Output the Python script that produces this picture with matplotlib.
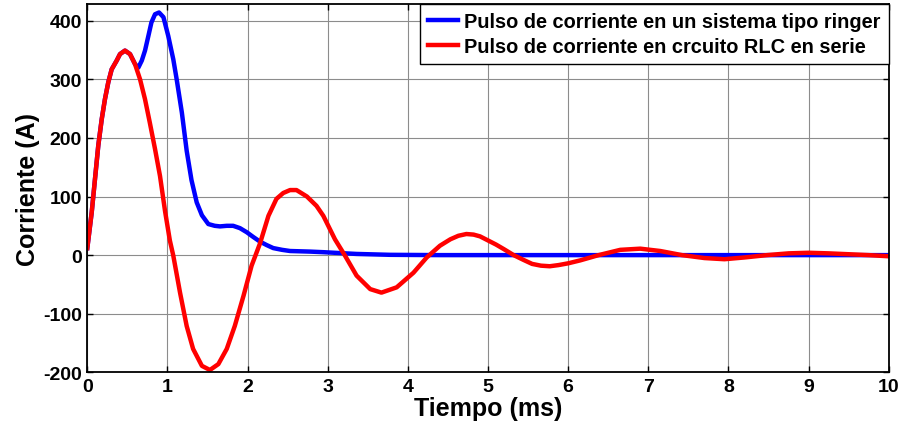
import matplotlib
matplotlib.use("Agg")
import matplotlib.pyplot as plt

# Red: RLC series circuit current pulse (t in ms, current in A)
t_rlc = [0.0, 0.055, 0.096, 0.137, 0.18, 0.22, 0.262, 0.304, 0.367, 0.408, 0.47,
         0.533, 0.595, 0.658, 0.72, 0.78, 0.845, 0.907, 0.97, 1.03, 1.073, 1.157,
         1.24, 1.32, 1.43, 1.53, 1.635, 1.74, 1.84, 1.95, 2.05, 2.155, 2.26, 2.36,
         2.445, 2.53, 2.61, 2.74, 2.86, 2.945, 3.09, 3.216, 3.36, 3.53, 3.67,
         3.86, 4.07, 4.235, 4.40, 4.53, 4.63, 4.73, 4.82, 4.90, 5.0, 5.10, 5.2,
         5.32, 5.44, 5.55, 5.66, 5.77, 5.88, 6.0, 6.15, 6.38, 6.65, 6.90, 7.15,
         7.42, 7.70, 7.95, 8.20, 8.48, 8.75, 9.00, 9.25, 9.50, 9.75, 10.0]
i_rlc = [12, 73, 130, 187, 232, 266, 295, 317, 332, 343, 349,
         343, 326, 300, 266, 226, 181, 135, 75, 25, -1, -64,
         -121, -160, -189, -196, -186, -160, -121, -69, -18, 20, 67, 96,
         106, 111, 111, 100, 84, 67, 27, -1, -35, -58, -64,
         -55, -30, -4, 16, 27, 33, 36, 35, 32, 25, 18, 10,
         0, -8, -15, -18, -19, -17, -14, -9, 0, 9, 11, 7,
         0, -5, -7, -4, 0, 3, 4, 3, 1.5, 0, -2]

# Blue: ringer-type system current pulse
t_ring = [0.0, 0.055, 0.096, 0.137, 0.18, 0.22, 0.262, 0.304, 0.367, 0.408, 0.47,
          0.533, 0.595, 0.637, 0.68, 0.72, 0.762, 0.80, 0.845, 0.895, 0.95, 1.01,
          1.073, 1.115, 1.18, 1.24, 1.30, 1.365, 1.43, 1.51, 1.59, 1.656, 1.74,
          1.82, 1.905, 1.99, 2.07, 2.155, 2.24, 2.32, 2.43, 2.53, 2.78, 2.945,
          3.36, 3.78, 4.4, 10.0]
i_ring = [12, 73, 130, 187, 232, 266, 295, 317, 332, 343, 349,
          343, 326, 320, 332, 349, 374, 397, 411, 414, 406, 374,
          334, 300, 243, 178, 128, 90, 68, 53, 50, 49, 50,
          50, 46, 39, 31, 23, 17, 12, 9, 7, 6, 5,
          2, 0.5, 0, 0]

labels = ["Pulso de corriente en un sistema tipo ringer",
          "Pulso de corriente en crcuito RLC en serie"]
xticks = list(range(0, 11))
yticks = [-200, -100, 0, 100, 200, 300, 400]

plt.rcParams['font.family'] = ['Liberation Sans', 'DejaVu Sans']
plt.rcParams['font.weight'] = 'bold'
plt.rcParams['axes.unicode_minus'] = False

fig = plt.figure(figsize=(9.01, 4.27), dpi=100)
ax = fig.add_axes([0.0969, 0.1257, 0.8895, 0.8633])

ax.plot(t_ring, i_ring, color=(0, 0, 1), lw=3.2, label=labels[0],
        solid_joinstyle='round')
ax.plot(t_rlc, i_rlc, color=(1, 0, 0), lw=3.2, label=labels[1],
        solid_joinstyle='round')

ax.set_xlim(0, 10)
ax.set_ylim(-200, 429)
ax.set_xticks(xticks)
ax.set_yticks(yticks)
ax.grid(True, color='0.55', lw=0.8, ls='-')
ax.set_axisbelow(True)
ax.tick_params(direction='in', length=4, width=1, top=True, right=True,
               labelsize=14, pad=4)
for lab in ax.get_xticklabels() + ax.get_yticklabels():
    lab.set_fontweight('bold')
for s in ax.spines.values():
    s.set_linewidth(1.3)
    s.set_color('black')

ax.set_xlabel("Tiempo (ms)", fontsize=18, fontweight='bold', labelpad=1)
ax.set_ylabel("Corriente (A)", fontsize=18, fontweight='bold', labelpad=2)

leg = ax.legend(loc='upper right', borderaxespad=0, fontsize=14.4,
                frameon=True, fancybox=False, handlelength=1.5,
                handletextpad=0.3, labelspacing=0.3, borderpad=0.4)
leg.get_frame().set_edgecolor('black')
leg.get_frame().set_linewidth(1.0)
leg.get_frame().set_alpha(1)
for txt in leg.get_texts():
    txt.set_fontweight('bold')

fig.savefig("out.png", dpi=100)
